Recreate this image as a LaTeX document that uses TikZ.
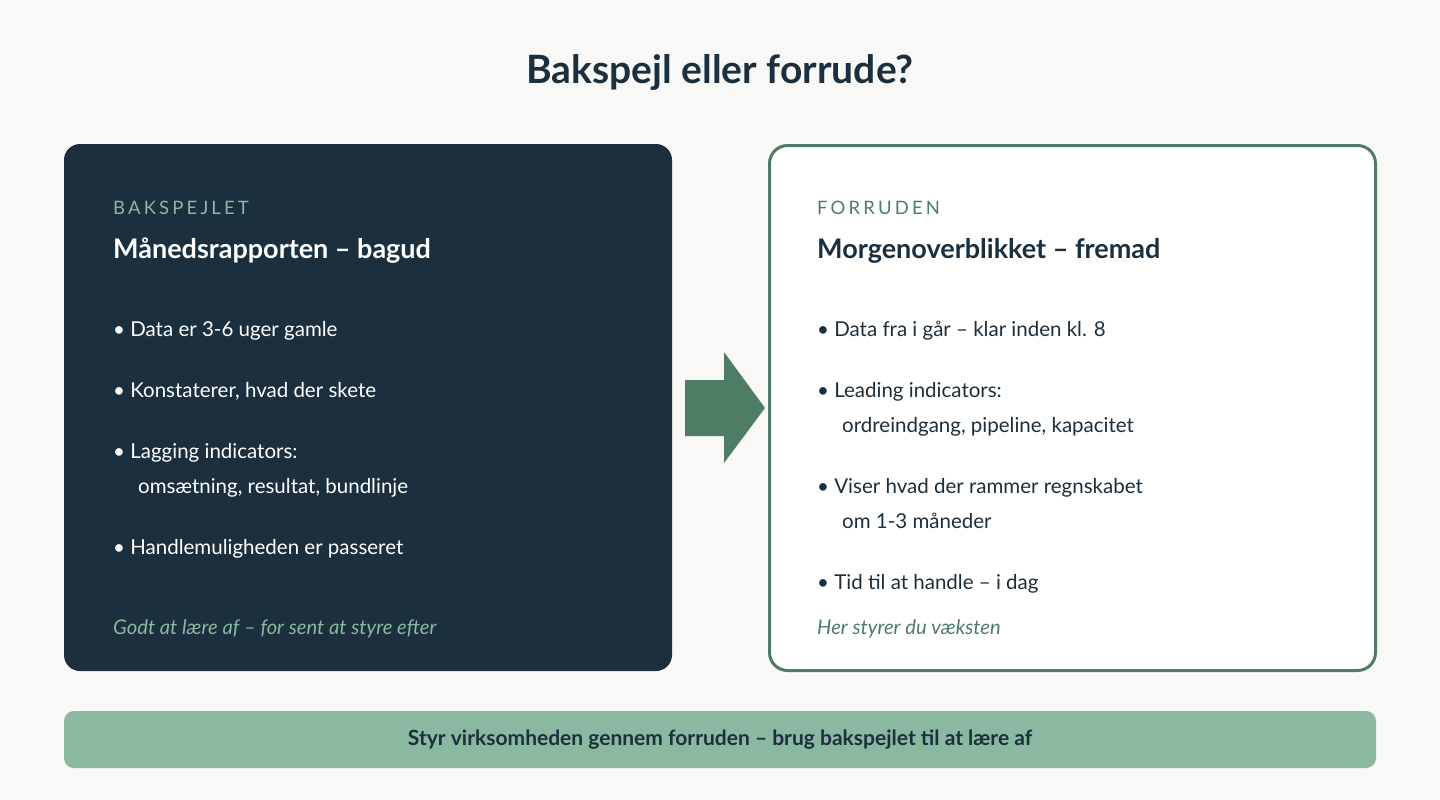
\documentclass[tikz,border=0pt]{standalone}
\usepackage{fontspec}
\setmainfont{Lato}
\definecolor{bg}{HTML}{F8F8F6}
\definecolor{navy}{HTML}{1B2F3E}
\definecolor{sage}{HTML}{8BB8A0}
\definecolor{forest}{HTML}{4E7D66}
\begin{document}
\begin{tikzpicture}[x=1pt,y=-1pt,
  every node/.style={inner sep=0pt},
  kicker/.style={anchor=base west,font=\fontsize{18.5}{20}\selectfont\addfontfeatures{LetterSpace=17}},
  heading/.style={anchor=base west,font=\fontsize{27}{30}\selectfont\bfseries},
  bullet/.style={anchor=base west,font=\fontsize{20.5}{35}\selectfont,align=left},
  foot/.style={anchor=base west,font=\fontsize{20.2}{22}\selectfont\itshape}]
\useasboundingbox[fill=bg] (0,0) rectangle (1440,800);
\node[anchor=base,font=\fontsize{39}{44}\selectfont\bfseries,text=navy] (title) at (720,84) {Bakspejl eller forrude?};
% left card
\node[fill=navy,rounded corners=16pt,minimum width=608pt,minimum height=527pt] (left) at (368,407.5) {};
\node[kicker,text=sage] (lk) at (113,214) {BAKSPEJLET};
\node[heading,text=white] (lh) at (113,258) {Månedsrapporten – bagud};
\node[bullet,text=white] (l1) at (113,336) {• Data er 3-6 uger gamle};
\node[bullet,text=white] (l2) at (113,397) {• Konstaterer, hvad der skete};
\node[bullet,text=white] (l3) at (113,458) {• Lagging indicators:};
\node[bullet,text=white] (l3b) at (138,493) {omsætning, resultat, bundlinje};
\node[bullet,text=white] (l4) at (113,554) {• Handlemuligheden er passeret};
\node[foot,text=sage] (lf) at (113,634) {Godt at lære af – for sent at styre efter};
% right card
\node[fill=white,draw=forest,line width=3pt,rounded corners=18pt,minimum width=606pt,minimum height=525pt] (right) at (1072.5,408) {};
\node[kicker,text=forest] (rk) at (817,214) {FORRUDEN};
\node[heading,text=navy] (rh) at (817,258) {Morgenoverblikket – fremad};
\node[bullet,text=navy] (r1) at (817,336) {• Data fra i går – klar inden kl. 8};
\node[bullet,text=navy] (r2) at (817,397) {• Leading indicators:};
\node[bullet,text=navy] (r2b) at (842,432) {ordreindgang, pipeline, kapacitet};
\node[bullet,text=navy] (r3) at (817,493) {• Viser hvad der rammer regnskabet};
\node[bullet,text=navy] (r3b) at (842,528) {om 1-3 måneder};
\node[bullet,text=navy] (r4) at (817,589) {• Tid til at handle – i dag};
\node[foot,text=forest] (rf) at (817,634) {Her styrer du væksten};
% arrow
\fill[forest] (685,380) -- (724,380) -- (724,352) -- (765,408) -- (724,463) -- (724,436) -- (685,436) -- cycle;
% bottom bar
\node[fill=sage,rounded corners=10pt,minimum width=1312pt,minimum height=57pt,font=\fontsize{21}{24}\selectfont\bfseries,text=navy] (bar) at (720,739.5) {Styr virksomheden gennem forruden – brug bakspejlet til at lære af};
\end{tikzpicture}
\end{document}
